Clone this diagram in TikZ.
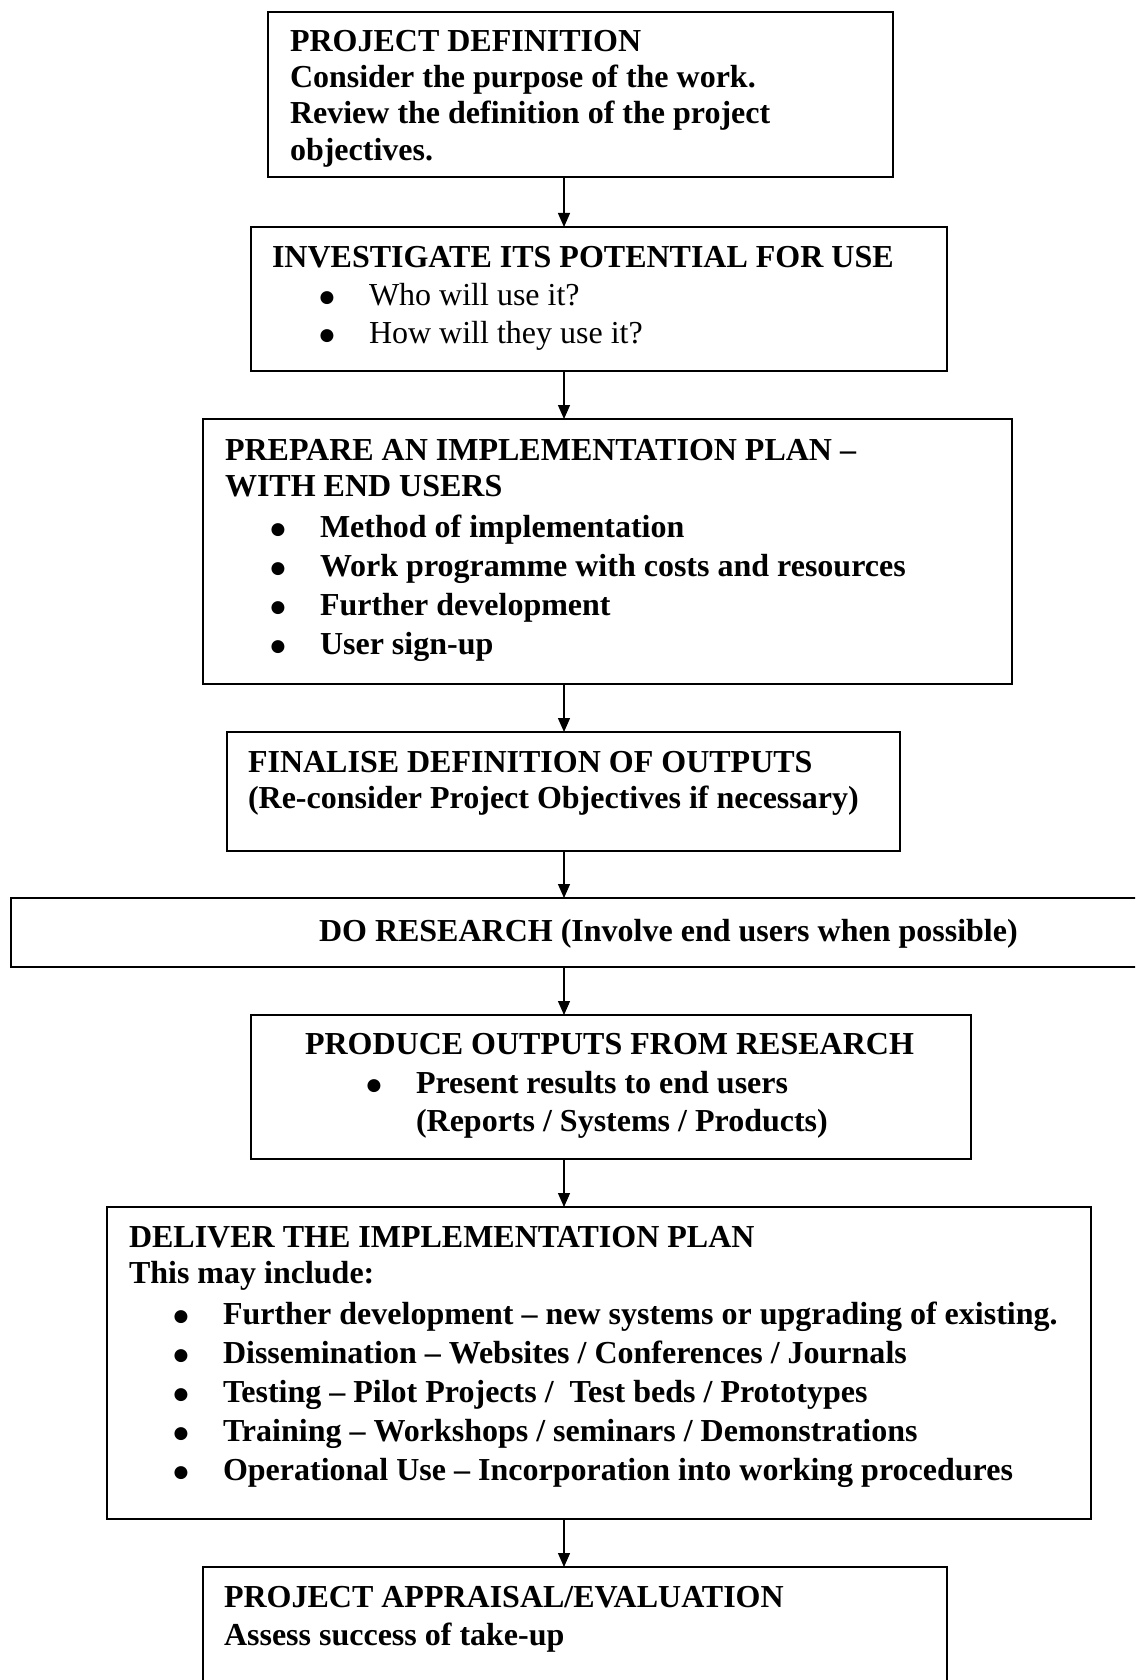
\documentclass[tikz,border=0pt]{standalone}
\usepackage{fontspec}
\setmainfont{Liberation Serif}
\newfontfamily\bulletfont{DejaVu Sans}
\usetikzlibrary{arrows.meta}
\begin{document}
\begin{tikzpicture}[x=1pt,y=-1pt,
  box/.style={draw=black, line width=2pt, inner sep=0pt, outer sep=0pt},
  txt/.style={anchor=base west, inner sep=0pt, outer sep=0pt, font=\fontsize{32}{37}\selectfont\bfseries},
  rtxt/.style={anchor=base west, inner sep=0pt, outer sep=0pt, font=\fontsize{32}{37}\selectfont},
  bul/.style={anchor=base, inner sep=0pt, outer sep=0pt, yshift=2.4pt, font=\bulletfont\fontsize{17}{17}\selectfont},
  arr/.style={draw=black, line width=1.3pt, -{Triangle[length=14pt,width=12pt]}}]
\clip (0,0) rectangle (1135,1680);
\fill[white] (0,0) rectangle (1135,1680);
\coordinate (spine) at (564,0);
% boxes
\node[box, minimum width=625pt, minimum height=165pt] (b1) at (580.5,94.5) {};
\node[box, minimum width=696pt, minimum height=144pt] (b2) at (599,299) {};
\node[box, minimum width=809pt, minimum height=265pt] (b3) at (607.5,551.5) {};
\node[box, minimum width=673pt, minimum height=119pt] (b4) at (563.5,791.5) {};
\node[box, minimum width=1139pt, minimum height=69pt] (b5) at (580.5,932.5) {};
\node[box, minimum width=720pt, minimum height=144pt] (b6) at (611,1087) {};
\node[box, minimum width=984pt, minimum height=312pt] (b7) at (599,1363) {};
\node[box, minimum width=744pt, minimum height=133pt] (b8) at (575,1633.5) {};
% arrows
\draw[arr] (b1.south -| spine) -- (b2.north -| spine);
\draw[arr] (b2.south -| spine) -- (b3.north -| spine);
\draw[arr] (b3.south -| spine) -- (b4.north -| spine);
\draw[arr] (b4.south -| spine) -- (b5.north -| spine);
\draw[arr] (b5.south -| spine) -- (b6.north -| spine);
\draw[arr] (b6.south -| spine) -- (b7.north -| spine);
\draw[arr] (b7.south -| spine) -- (b8.north -| spine);
% box 1
\node[txt] (t1a) at (290,52) {PROJECT DEFINITION};
\node[txt] (t1b) at (290,88) {Consider the purpose of the work.};
\node[txt] (t1c) at (290,124) {Review the definition of the project};
\node[txt] (t1d) at (290,161) {objectives.};
% box 2
\node[txt] (t2a) at (272,267) {INVESTIGATE ITS POTENTIAL FOR USE};
\node[bul] (p2b) at (327,305) {●};
\node[rtxt] (t2b) at (369,305) {Who will use it?};
\node[bul] (p2c) at (327,343) {●};
\node[rtxt] (t2c) at (369,343) {How will they use it?};
% box 3
\node[txt] (t3a) at (225,460) {PREPARE AN IMPLEMENTATION PLAN –};
\node[txt] (t3b) at (225,496) {WITH END USERS};
\node[bul] (p3c) at (278,537) {●};
\node[txt] (t3c) at (320,537) {Method of implementation};
\node[bul] (p3d) at (278,576) {●};
\node[txt] (t3d) at (320,576) {Work programme with costs and resources};
\node[bul] (p3e) at (278,615) {●};
\node[txt] (t3e) at (320,615) {Further development};
\node[bul] (p3f) at (278,654) {●};
\node[txt] (t3f) at (320,654) {User sign-up};
% box 4
\node[txt] (t4a) at (248,772) {FINALISE DEFINITION OF OUTPUTS};
\node[txt] (t4b) at (248,808) {(Re-consider Project Objectives if necessary)};
% box 5
\node[txt] (t5a) at (319,941) {DO RESEARCH (Involve end users when possible)};
% box 6
\node[txt] (t6a) at (305,1054) {PRODUCE OUTPUTS FROM RESEARCH};
\node[bul] (p6b) at (374,1093) {●};
\node[txt] (t6b) at (416,1093) {Present results to end users};
\node[txt] (t6c) at (416,1131) {(Reports / Systems / Products)};
% box 7
\node[txt] (t7a) at (129,1247) {DELIVER THE IMPLEMENTATION PLAN};
\node[txt] (t7b) at (129,1283) {This may include:};
\node[bul] (p7c) at (181,1324) {●};
\node[txt] (t7c) at (223,1324) {Further development – new systems or upgrading of existing.};
\node[bul] (p7d) at (181,1363) {●};
\node[txt] (t7d) at (223,1363) {Dissemination – Websites / Conferences / Journals};
\node[bul] (p7e) at (181,1402) {●};
\node[txt] (t7e) at (223,1402) {Testing – Pilot Projects /~ Test beds / Prototypes};
\node[bul] (p7f) at (181,1441) {●};
\node[txt] (t7f) at (223,1441) {Training – Workshops / seminars / Demonstrations};
\node[bul] (p7g) at (181,1480) {●};
\node[txt] (t7g) at (223,1480) {Operational Use – Incorporation into working procedures};
% box 8
\node[txt] (t8a) at (224,1607) {PROJECT APPRAISAL/EVALUATION};
\node[txt] (t8b) at (224,1645) {Assess success of take-up};
\end{tikzpicture}
\end{document}
